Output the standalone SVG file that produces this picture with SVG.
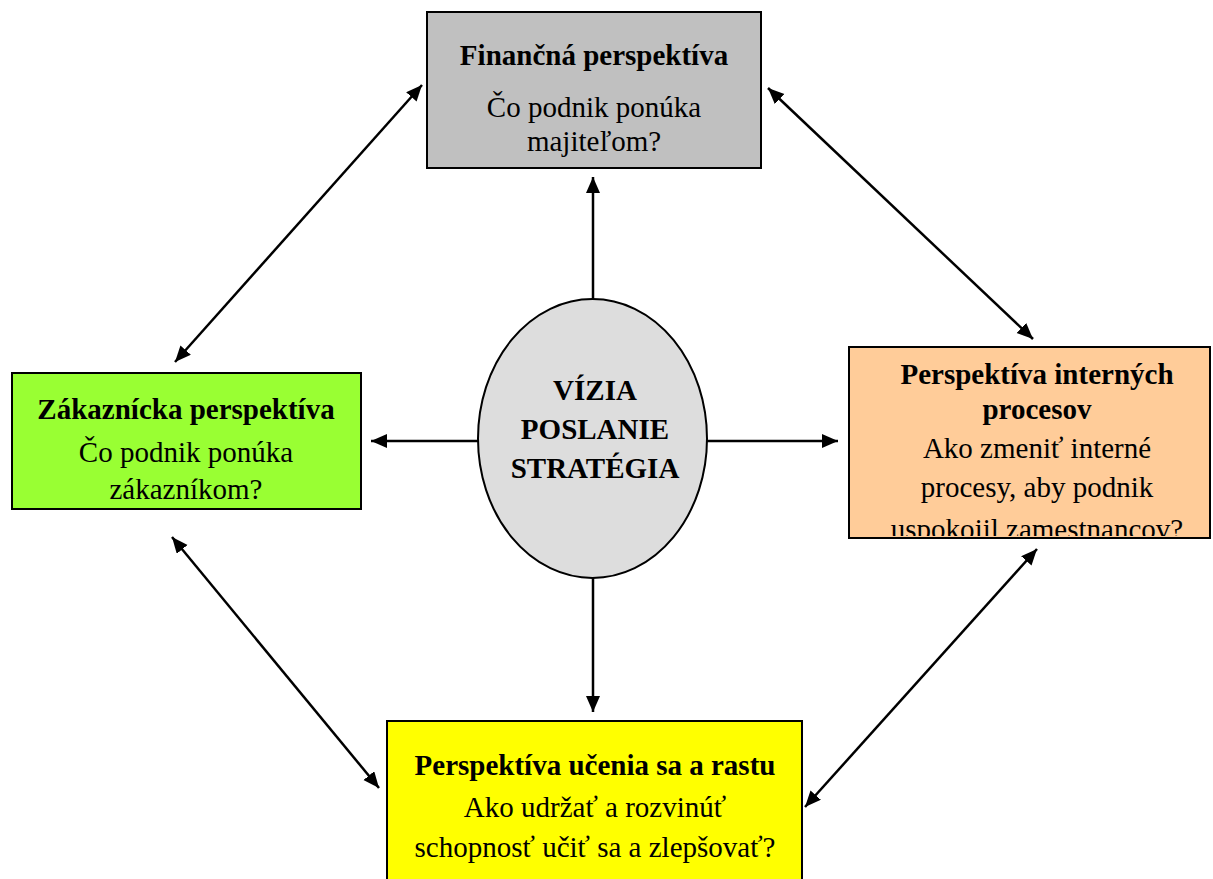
<svg xmlns="http://www.w3.org/2000/svg" width="1213" height="879" viewBox="0 0 1213 879">
  <style>
    .box { stroke: #000; stroke-width: 2; }
    .t { font-family: "Liberation Serif", "Times New Roman", serif; font-size: 29px; fill: #000; text-anchor: middle; }
    .b { font-weight: bold; }
    .conn { stroke: #000; stroke-width: 2.5; fill: none; }
  </style>
  <defs>
    <marker id="head" markerUnits="userSpaceOnUse" markerWidth="17" markerHeight="15" refX="16" refY="7" orient="auto-start-reverse">
      <path d="M0,0 L16,7 L0,14 Z" fill="#000"/>
    </marker>
    <!-- text area of the internal-processes box; the last line runs past it -->
    <clipPath id="clipRight">
      <rect x="850" y="348" width="360" height="188"/>
    </clipPath>
  </defs>
  <rect width="1213" height="879" fill="#fff"/>

  <!-- connectors -->
  <g id="connectors">
    <line class="conn" x1="593" y1="299" x2="593" y2="177" marker-end="url(#head)"/>
    <line class="conn" x1="593" y1="578" x2="593" y2="712" marker-end="url(#head)"/>
    <line class="conn" x1="478" y1="441" x2="371" y2="441" marker-end="url(#head)"/>
    <line class="conn" x1="707" y1="441" x2="838" y2="441" marker-end="url(#head)"/>
    <line class="conn" x1="175" y1="362" x2="422" y2="85" marker-start="url(#head)" marker-end="url(#head)"/>
    <line class="conn" x1="768" y1="88" x2="1033" y2="339" marker-start="url(#head)" marker-end="url(#head)"/>
    <line class="conn" x1="172" y1="537" x2="379" y2="788" marker-start="url(#head)" marker-end="url(#head)"/>
    <line class="conn" x1="1037" y1="549" x2="805" y2="807" marker-start="url(#head)" marker-end="url(#head)"/>
  </g>

  <!-- financial -->
  <g id="financna">
    <rect class="box" x="427" y="12" width="334" height="156" fill="#C0C0C0"/>
    <text class="t b" x="594" y="65">Finančná perspektíva</text>
    <text class="t" x="594" y="117">Čo podnik ponúka</text>
    <text class="t" x="594" y="151">majiteľom?</text>
  </g>

  <!-- customer -->
  <g id="zakaznicka">
    <rect class="box" x="12" y="373" width="349" height="136" fill="#99FF33"/>
    <text class="t b" x="186" y="419">Zákaznícka perspektíva</text>
    <text class="t" x="186" y="462">Čo podnik ponúka</text>
    <text class="t" x="186" y="499">zákazníkom?</text>
  </g>

  <!-- internal processes -->
  <g id="interne">
    <rect class="box" x="849" y="347" width="361" height="191" fill="#FFCC99"/>
    <g clip-path="url(#clipRight)">
      <text class="t b" x="1037" y="384">Perspektíva interných</text>
      <text class="t b" x="1037" y="419">procesov</text>
      <text class="t" x="1037" y="458">Ako zmeniť interné</text>
      <text class="t" x="1037" y="497">procesy, aby podnik</text>
      <text class="t" x="1037" y="539">uspokojil zamestnancov?</text>
    </g>
  </g>

  <!-- learning and growth -->
  <g id="ucenie">
    <rect class="box" x="387" y="721" width="415" height="170" fill="#FFFF00"/>
    <text class="t b" x="595" y="775">Perspektíva učenia sa a rastu</text>
    <text class="t" x="595" y="817">Ako udržať a rozvinúť</text>
    <text class="t" x="595" y="857">schopnosť učiť sa a zlepšovať?</text>
  </g>

  <!-- vision -->
  <g id="vizia">
    <ellipse cx="592.5" cy="438.5" rx="114.5" ry="139.5" fill="#DDDDDD" stroke="#000" stroke-width="2"/>
    <text class="t b" x="595" y="400">VÍZIA</text>
    <text class="t b" x="595" y="439">POSLANIE</text>
    <text class="t b" x="595" y="478">STRATÉGIA</text>
  </g>
</svg>
